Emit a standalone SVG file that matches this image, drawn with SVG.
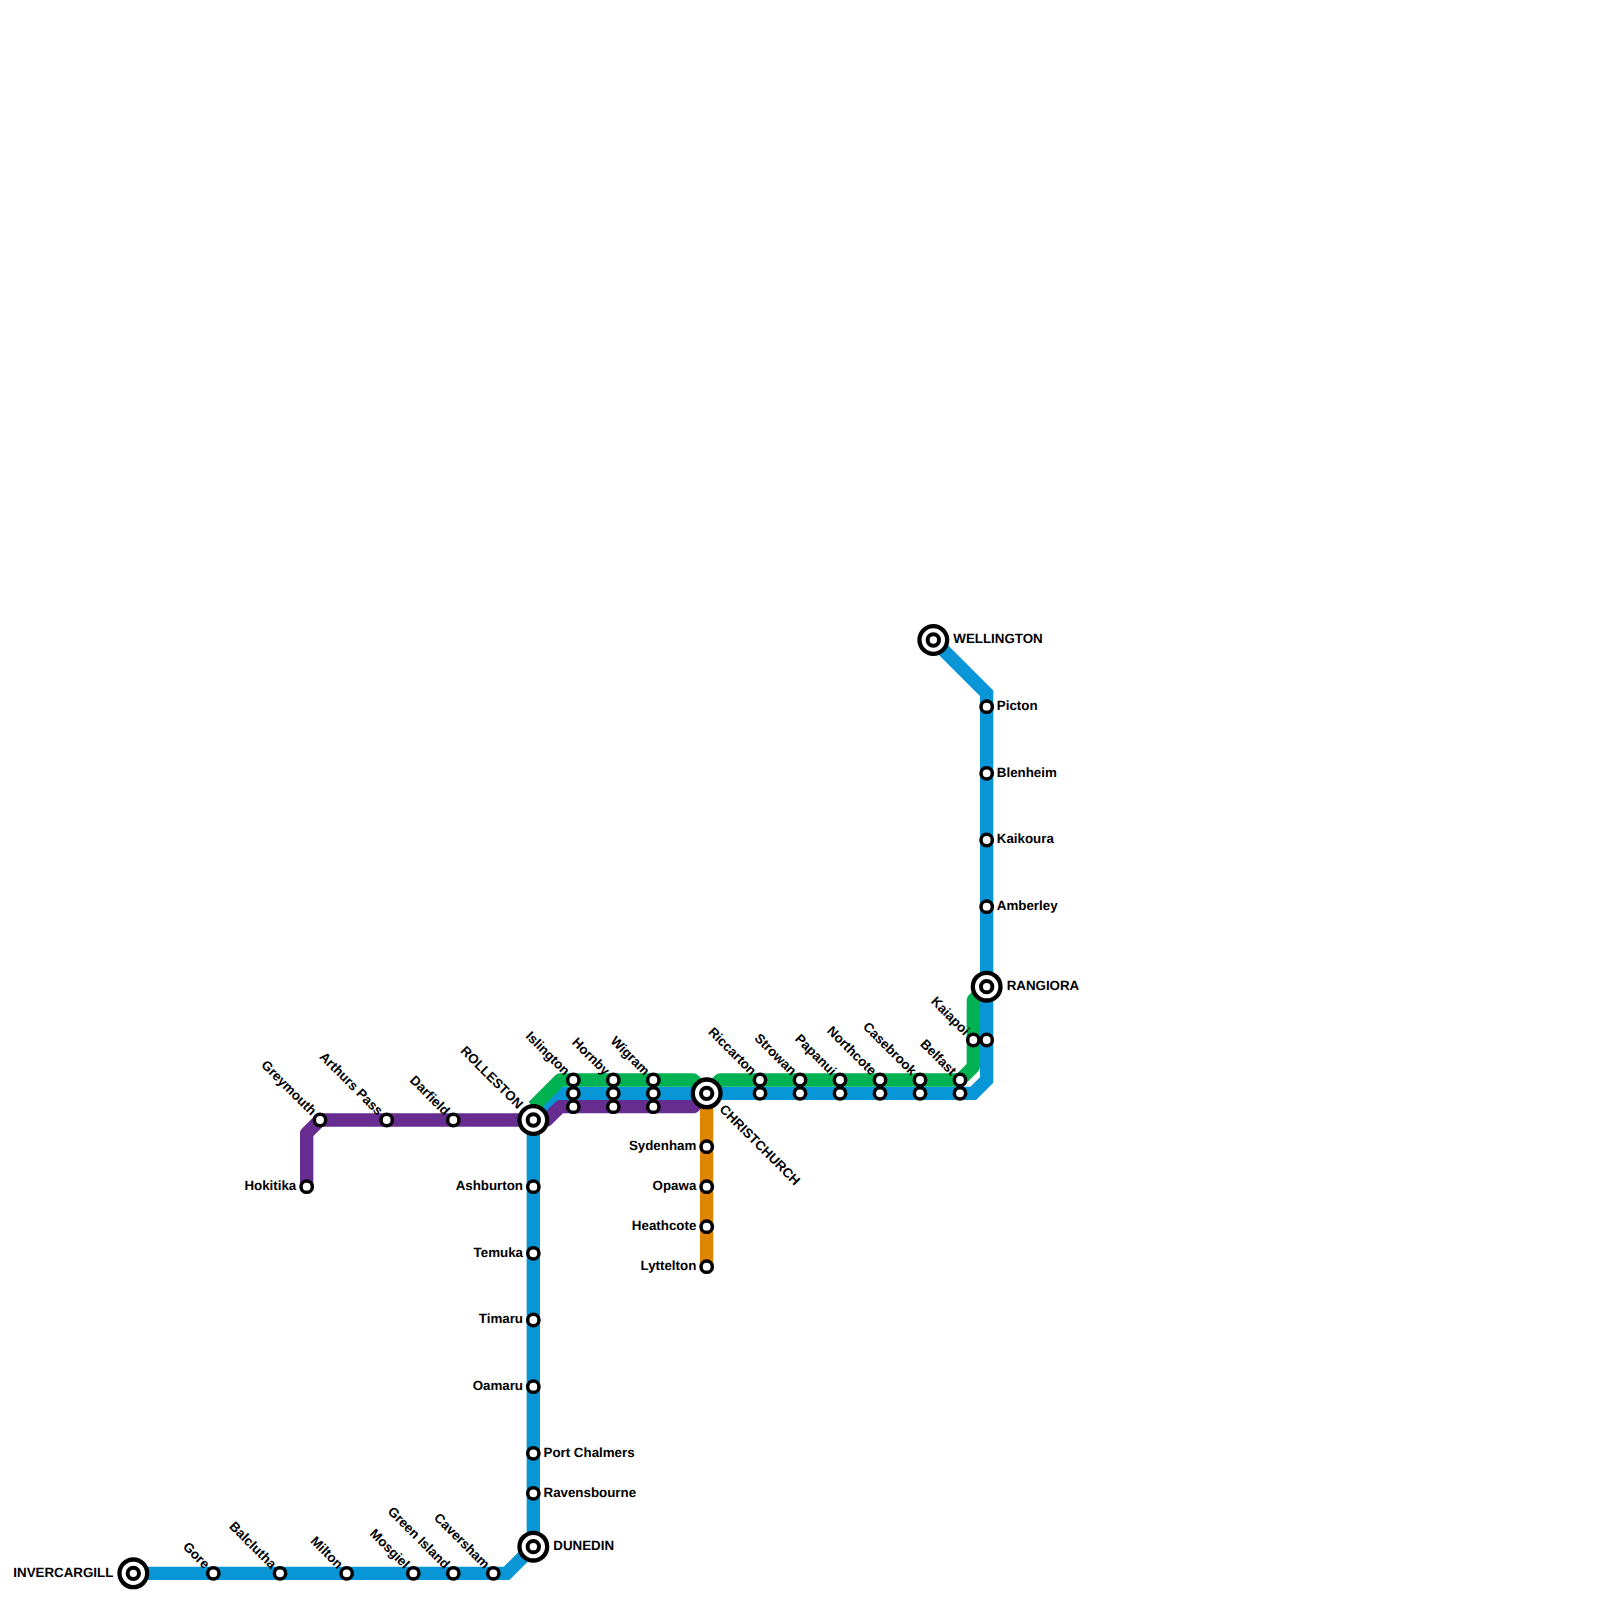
<svg xmlns="http://www.w3.org/2000/svg" width="1600" height="1600" viewBox="0 0 1600 1600">
<style>
.l{fill:none;stroke-width:13.33}
.blue{stroke:#0896d7;stroke-linejoin:miter}
.green{stroke:#00b251;stroke-linejoin:round}
.purple{stroke:#662c90;stroke-linejoin:round}
.orange{stroke:#df8600}
.s{fill:#fff;stroke:#000;stroke-width:3.5}
.t1{fill:#fff;stroke:#000;stroke-width:4.3}
.t2{fill:#fff;stroke:#000;stroke-width:4}
text{font-family:"Liberation Sans",Arial,sans-serif;font-weight:700;font-size:13.33px;fill:#000;text-rendering:geometricPrecision}
.e{text-anchor:end}
</style>
<defs>
<circle id="st" class="s" r="5.67"/>
<g id="tm"><circle class="t1" r="13.85"/><circle class="t2" r="5.7"/></g>
</defs>
<rect width="1600" height="1600" fill="#fff"/>
<g id="connectors">
<path class="l orange" d="M706.67 1093.33V1266.67"/>
<path class="l blue" d="M133.33 1573.33H506.67L533.33 1546.67V1120L560 1093.33H973.33L986.67 1080V693.33L933.33 640"/>
<path class="l green" d="M533.33 1106.67L560 1080H693.33L706.67 1093.33"/>
<path class="l green" d="M706.67 1093.33L720 1080H960L973.33 1066.67V1000L986.67 986.67"/>
<path class="l purple" d="M306.67 1186.67V1133.33L320 1120H546.67L560 1106.67H693.33L706.67 1093.33"/>
</g>
<g id="invercargill"><use href="#tm" x="133.33" y="1573.33"/><text class="e" x="113.33" y="1576.5">INVERCARGILL</text></g>
<g id="gore"><use href="#st" x="213.33" y="1573.33"/><text class="e" transform="translate(207.3 1566.3) rotate(45)" dy="4.4">Gore</text></g>
<g id="balclutha"><use href="#st" x="280" y="1573.33"/><text class="e" transform="translate(274 1566.3) rotate(45)" dy="4.4">Balclutha</text></g>
<g id="milton"><use href="#st" x="346.67" y="1573.33"/><text class="e" transform="translate(340.6 1566.3) rotate(45)" dy="4.4">Milton</text></g>
<g id="mosgiel"><use href="#st" x="413.33" y="1573.33"/><text class="e" transform="translate(407.3 1566.3) rotate(45)" dy="4.4">Mosgiel</text></g>
<g id="green-island"><use href="#st" x="453.33" y="1573.33"/><text class="e" transform="translate(447.3 1566.3) rotate(45)" dy="4.4">Green Island</text></g>
<g id="caversham"><use href="#st" x="493.33" y="1573.33"/><text class="e" transform="translate(487.3 1566.3) rotate(45)" dy="4.4">Caversham</text></g>
<g id="dunedin"><use href="#tm" x="533.33" y="1546.67"/><text x="553.33" y="1549.8">DUNEDIN</text></g>
<g id="ravensbourne"><use href="#st" x="533.33" y="1493.33"/><text x="543.5" y="1496.5">Ravensbourne</text></g>
<g id="port-chalmers"><use href="#st" x="533.33" y="1453.33"/><text x="543.5" y="1456.5">Port Chalmers</text></g>
<g id="oamaru"><use href="#st" x="533.33" y="1386.67"/><text class="e" x="523" y="1389.8">Oamaru</text></g>
<g id="timaru"><use href="#st" x="533.33" y="1320"/><text class="e" x="523" y="1323.2">Timaru</text></g>
<g id="temuka"><use href="#st" x="533.33" y="1253.33"/><text class="e" x="523" y="1256.5">Temuka</text></g>
<g id="ashburton"><use href="#st" x="533.33" y="1186.67"/><text class="e" x="523" y="1189.8">Ashburton</text></g>
<g id="rolleston"><use href="#tm" x="533.33" y="1120"/><text class="e" transform="translate(520.7 1106.4) rotate(45)" dy="4.4">ROLLESTON</text></g>
<g id="hokitika"><use href="#st" x="306.67" y="1186.67"/><text class="e" x="296.3" y="1189.8">Hokitika</text></g>
<g id="greymouth"><use href="#st" x="320" y="1120"/><text class="e" transform="translate(314 1113) rotate(45)" dy="4.4">Greymouth</text></g>
<g id="arthurs-pass"><use href="#st" x="386.67" y="1120"/><text class="e" transform="translate(380.6 1113) rotate(45)" dy="4.4">Arthurs Pass</text></g>
<g id="darfield"><use href="#st" x="453.33" y="1120"/><text class="e" transform="translate(447.3 1113) rotate(45)" dy="4.4">Darfield</text></g>
<g id="islington"><use href="#st" x="573.33" y="1080"/><use href="#st" x="573.33" y="1093.33"/><use href="#st" x="573.33" y="1106.67"/><text class="e" transform="translate(567.3 1073) rotate(45)" dy="4.4">Islington</text></g>
<g id="hornby"><use href="#st" x="613.33" y="1080"/><use href="#st" x="613.33" y="1093.33"/><use href="#st" x="613.33" y="1106.67"/><text class="e" transform="translate(607.3 1073) rotate(45)" dy="4.4">Hornby</text></g>
<g id="wigram"><use href="#st" x="653.33" y="1080"/><use href="#st" x="653.33" y="1093.33"/><use href="#st" x="653.33" y="1106.67"/><text class="e" transform="translate(647.3 1073) rotate(45)" dy="4.4">Wigram</text></g>
<g id="christchurch"><use href="#tm" x="706.67" y="1093.33"/><text transform="translate(721.8 1107) rotate(45)" dy="4.4">CHRISTCHURCH</text></g>
<g id="sydenham"><use href="#st" x="706.67" y="1146.67"/><text class="e" x="696.3" y="1149.8">Sydenham</text></g>
<g id="opawa"><use href="#st" x="706.67" y="1186.67"/><text class="e" x="696.3" y="1189.8">Opawa</text></g>
<g id="heathcote"><use href="#st" x="706.67" y="1226.67"/><text class="e" x="696.3" y="1229.8">Heathcote</text></g>
<g id="lyttelton"><use href="#st" x="706.67" y="1266.67"/><text class="e" x="696.3" y="1269.8">Lyttelton</text></g>
<g id="riccarton"><use href="#st" x="760" y="1080"/><use href="#st" x="760" y="1093.33"/><text class="e" transform="translate(754 1073) rotate(45)" dy="4.4">Riccarton</text></g>
<g id="strowan"><use href="#st" x="800" y="1080"/><use href="#st" x="800" y="1093.33"/><text class="e" transform="translate(794 1073) rotate(45)" dy="4.4">Strowan</text></g>
<g id="papanui"><use href="#st" x="840" y="1080"/><use href="#st" x="840" y="1093.33"/><text class="e" transform="translate(834 1073) rotate(45)" dy="4.4">Papanui</text></g>
<g id="northcote"><use href="#st" x="880" y="1080"/><use href="#st" x="880" y="1093.33"/><text class="e" transform="translate(874 1073) rotate(45)" dy="4.4">Northcote</text></g>
<g id="casebrook"><use href="#st" x="920" y="1080"/><use href="#st" x="920" y="1093.33"/><text class="e" transform="translate(914 1073) rotate(45)" dy="4.4">Casebrook</text></g>
<g id="belfast"><use href="#st" x="960" y="1080"/><use href="#st" x="960" y="1093.33"/><text class="e" transform="translate(954 1073) rotate(45)" dy="4.4">Belfast</text></g>
<g id="kaiapoi"><use href="#st" x="973.33" y="1040"/><use href="#st" x="986.67" y="1040"/><text class="e" transform="translate(967.3 1033) rotate(45)" dy="4.4">Kaiapoi</text></g>
<g id="rangiora"><use href="#tm" x="986.67" y="986.67"/><text x="1006.67" y="989.8">RANGIORA</text></g>
<g id="amberley"><use href="#st" x="986.67" y="906.67"/><text x="996.8" y="909.8">Amberley</text></g>
<g id="kaikoura"><use href="#st" x="986.67" y="840"/><text x="996.8" y="843.2">Kaikoura</text></g>
<g id="blenheim"><use href="#st" x="986.67" y="773.33"/><text x="996.8" y="776.5">Blenheim</text></g>
<g id="picton"><use href="#st" x="986.67" y="706.67"/><text x="996.8" y="709.8">Picton</text></g>
<g id="wellington"><use href="#tm" x="933.33" y="640"/><text x="953.33" y="643.2">WELLINGTON</text></g>
</svg>
